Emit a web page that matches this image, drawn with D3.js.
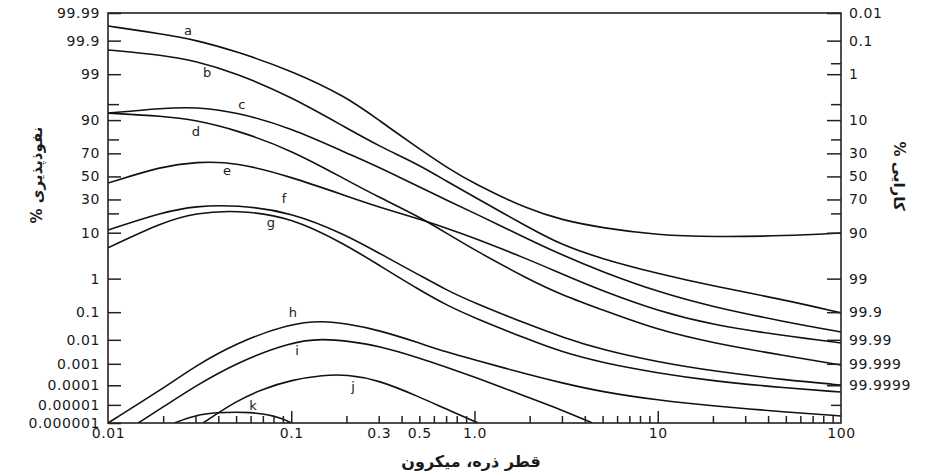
<!DOCTYPE html>
<html>
<head>
<meta charset="utf-8">
<script src="https://cdn.jsdelivr.net/npm/d3@7"></script>
<style>
  html, body { margin: 0; padding: 0; background: #fff; }
  svg { display: block; }
  text { font-family: "DejaVu Sans", sans-serif; fill: #1a1a1a; }
</style>
</head>
<body>
<svg id="chart" width="926" height="473"></svg>
<script>
// ---------------- DATA ----------------
const seriesNames = ["a", "b", "c", "d", "e", "f", "g", "h", "i", "j", "k"];

// shared diameter grid (micron) for curves a-g
const gridD = [0.01, 0.02, 0.03, 0.05, 0.1, 0.2, 0.3, 0.5, 0.7, 1, 2, 3, 5, 10, 20, 50, 100];

// penetration (%) on gridD
const penA = [99.969, 99.94, 99.905, 99.78, 99.2, 96.5, 90.0, 73.4, 58.5, 43.1, 22.2, 16.1, 12.0, 9.1, 8.4, 8.8, 9.9];
const penB = [99.80, 99.71, 99.57, 99.07, 96.5, 86.5, 75.6, 60.3, 45.9, 31.9, 12.0, 5.9, 3.0, 1.35, 0.63, 0.245, 0.095];
const penC = [92.5, 94.0, 94.3, 92.9, 86.5, 70.3, 58.5, 40.5, 29.6, 20.2, 7.4, 3.7, 1.48, 0.43, 0.148, 0.046, 0.020];
const penD = [92.5, 91.5, 90.0, 85.5, 72.6, 46.7, 31.9, 17.8, 9.9, 4.7, 0.92, 0.35, 0.118, 0.0236, 0.0075, 0.0022, 0.00089];
const penE = [44.0, 59.4, 62.9, 62.9, 49.5, 32.8, 24.3, 16.6, 12.0, 8.1, 2.86, 1.32, 0.455, 0.110, 0.036, 0.0141, 0.0075];
const penF = [11.1, 20.9, 25.0, 25.8, 20.9, 9.1, 4.07, 1.24, 0.49, 0.198, 0.036, 0.0129, 0.0039, 0.0012, 0.00047, 0.00018, 0.000103];
const penG = [5.2, 15.0, 20.2, 22.2, 17.8, 5.9, 2.19, 0.49, 0.172, 0.064, 0.0098, 0.0032, 0.0011, 0.00038, 0.00016, 0.000074, 0.000046];

// curves h-k have their own diameters
const dH = [0.01, 0.02, 0.03, 0.05, 0.1, 0.15, 0.2, 0.3, 0.5, 0.7, 1, 2, 3, 5, 10, 20, 50, 100];
const penH = [0.000001, 0.00007, 0.0008, 0.0075, 0.042, 0.050, 0.040, 0.0236, 0.0075, 0.0032, 0.0015, 0.00031, 0.00013, 0.000046, 0.000018, 0.0000087, 0.0000041, 0.0000025];
const dI = [0.0146, 0.02, 0.03, 0.05, 0.1, 0.15, 0.2, 0.3, 0.5, 0.7, 1, 2, 3, 4.4];
const penI = [0.000001, 0.0000077, 0.000092, 0.0011, 0.0085, 0.011, 0.009, 0.0058, 0.0018, 0.00072, 0.00025, 0.000023, 0.0000053, 0.000001];
const dJ = [0.033, 0.05, 0.07, 0.1, 0.15, 0.2, 0.3, 0.5, 0.7, 1.05];
const penJ = [0.000001, 0.000016, 0.000066, 0.00018, 0.00031, 0.00033, 0.00018, 0.000026, 0.000006, 0.000001];
const dK = [0.023, 0.03, 0.04, 0.05, 0.06, 0.07, 0.08, 0.09, 0.1];
const penK = [0.000001, 0.0000028, 0.0000039, 0.0000041, 0.0000039, 0.0000032, 0.0000025, 0.0000017, 0.000001];

// curve label anchors (diameter, penetration %)
const labelD = [0.0273, 0.0347, 0.0538, 0.0302, 0.0446, 0.0913, 0.0775, 0.102, 0.1075, 0.2173, 0.0618];
const labelP = [99.953, 99.07, 94.8, 84.4, 54.9, 30.4, 14.5, 0.094, 0.00355, 0.000082, 0.0000087];

// axis ticks
const leftTickLabels = ["99.99", "99.9", "99", "90", "70", "50", "30", "10", "1", "0.1", "0.01", "0.001", "0.0001", "0.00001", "0.000001"];
const leftMinorTicks = [95, 80, 20];
const rightTickLabels = ["0.01", "0.1", "1", "10", "30", "50", "70", "90", "99", "99.9", "99.99", "99.999", "99.9999"];
const rightMinorTicks = [0.5, 5, 20, 80, 99.99999];
const xLabelValues = [0.01, 0.1, 0.3, 0.5, 1, 10, 100];
const xLabelText = ["0.01", "0.1", "0.3", "0.5", "1.0", "10", "100"];

const xTitle = "قطر ذره، میکرون";
const yTitleLeft = "نفوذپذیری %";
const yTitleRight = "کارایی %";

// ---------------- HELPERS ----------------
function probit(p) {
  const a = [-3.969683028665376e+01, 2.209460984245205e+02, -2.759285104469687e+02, 1.383577518672690e+02, -3.066479806614716e+01, 2.506628277459239e+00];
  const b = [-5.447609879822406e+01, 1.615858368580409e+02, -1.556989798598866e+02, 6.680131188771972e+01, -1.328068155288572e+01];
  const c = [-7.784894002430293e-03, -3.223964580411365e-01, -2.400758277161838e+00, -2.549732539343734e+00, 4.374664141464968e+00, 2.938163982698783e+00];
  const d = [7.784695709041462e-03, 3.224671290700398e-01, 2.445134137142996e+00, 3.754408661907416e+00];
  const pl = 0.02425, ph = 1 - pl;
  let q, r;
  if (p < pl) {
    q = Math.sqrt(-2 * Math.log(p));
    return (((((c[0]*q+c[1])*q+c[2])*q+c[3])*q+c[4])*q+c[5]) / ((((d[0]*q+d[1])*q+d[2])*q+d[3])*q+1);
  }
  if (p <= ph) {
    q = p - 0.5; r = q*q;
    return (((((a[0]*r+a[1])*r+a[2])*r+a[3])*r+a[4])*r+a[5])*q / (((((b[0]*r+b[1])*r+b[2])*r+b[3])*r+b[4])*r+1);
  }
  q = Math.sqrt(-2 * Math.log(1 - p));
  return -(((((c[0]*q+c[1])*q+c[2])*q+c[3])*q+c[4])*q+c[5]) / ((((d[0]*q+d[1])*q+d[2])*q+d[3])*q+1);
}
const zPen = pct => probit(pct / 100);        // penetration % -> probit
const zEff = pct => probit((100 - pct) / 100); // efficiency % -> probit of penetration

// ---------------- LAYOUT ----------------
const L = 108, R = 841, T = 13, B = 423;
const svg = d3.select("#chart");
svg.append("rect").attr("width", 926).attr("height", 473).attr("fill", "#fff");

const x = d3.scaleLog().domain([0.01, 100]).range([L, R]);
const y = d3.scaleLinear().domain([probit(0.9999), probit(1e-8)]).range([T, B]);

const defs = svg.append("defs");
defs.append("clipPath").attr("id", "plotclip")
  .append("rect").attr("x", L).attr("y", T).attr("width", R - L).attr("height", B - T);

// ---------------- CURVES ----------------
const curveD = [gridD, gridD, gridD, gridD, gridD, gridD, gridD, dH, dI, dJ, dK];
const curveP = [penA, penB, penC, penD, penE, penF, penG, penH, penI, penJ, penK];

const line = d3.line()
  .x(d => x(d[0]))
  .y(d => y(zPen(d[1])))
  .curve(d3.curveBasis);

const gCurves = svg.append("g").attr("clip-path", "url(#plotclip)");
seriesNames.forEach((name, i) => {
  const pts = curveD[i].map((dd, j) => [dd, curveP[i][j]]);
  gCurves.append("path")
    .datum(pts)
    .attr("d", line)
    .attr("fill", "none")
    .attr("stroke", "#111")
    .attr("stroke-width", 1.6)
    .attr("stroke-linejoin", "round");
});

// curve labels
svg.append("g").selectAll("text")
  .data(seriesNames)
  .join("text")
  .attr("x", (d, i) => x(labelD[i]))
  .attr("y", (d, i) => y(zPen(labelP[i])) + 4)
  .attr("text-anchor", "middle")
  .attr("font-size", 13)
  .text(d => d);

// ---------------- FRAME ----------------
svg.append("rect")
  .attr("x", L).attr("y", T).attr("width", R - L).attr("height", B - T)
  .attr("fill", "none").attr("stroke", "#222").attr("stroke-width", 1.6);

// ---------------- AXES ----------------
const tickFont = g => g.selectAll("text")
  .attr("font-family", "DejaVu Sans, sans-serif")
  .attr("font-size", 14)
  .attr("letter-spacing", 0.6)
  .attr("fill", "#1a1a1a");
const tickStroke = g => {
  g.select(".domain").remove();
  g.selectAll(".tick line").attr("stroke", "#222").attr("stroke-width", 1.5);
};

// left axis (penetration)
const leftVals = leftTickLabels.map(s => zPen(+s));
svg.append("g")
  .attr("transform", `translate(${L},0)`)
  .call(d3.axisLeft(y).tickValues(leftVals).tickSize(-13).tickPadding(8)
        .tickFormat((d, i) => leftTickLabels[i]))
  .call(tickStroke).call(tickFont);
svg.append("g")
  .attr("transform", `translate(${L},0)`)
  .call(d3.axisLeft(y).tickValues(leftMinorTicks.map(zPen)).tickSize(-11).tickFormat(""))
  .call(tickStroke);

// right axis (efficiency)
const rightVals = rightTickLabels.map(s => zEff(+s));
svg.append("g")
  .attr("transform", `translate(${R},0)`)
  .call(d3.axisRight(y).tickValues(rightVals).tickSize(-14).tickPadding(8)
        .tickFormat((d, i) => rightTickLabels[i]))
  .call(tickStroke).call(tickFont);
svg.append("g")
  .attr("transform", `translate(${R},0)`)
  .call(d3.axisRight(y).tickValues(rightMinorTicks.map(zEff)).tickSize(-10).tickFormat(""))
  .call(tickStroke);

// bottom axis
const minorX = [];
[0.01, 0.1, 1, 10].forEach(dec => { for (let k = 2; k <= 9; k++) minorX.push(dec * k); });
svg.append("g")
  .attr("transform", `translate(0,${B})`)
  .call(d3.axisBottom(x).tickValues(minorX).tickSize(-7).tickFormat(""))
  .call(tickStroke);
svg.append("g")
  .attr("transform", `translate(0,${B})`)
  .call(d3.axisBottom(x).tickValues([0.1, 1, 10]).tickSize(-12).tickFormat(""))
  .call(tickStroke);
svg.append("g")
  .attr("transform", `translate(0,${B})`)
  .call(d3.axisBottom(x).tickValues(xLabelValues).tickSize(0).tickPadding(5)
        .tickFormat((d, i) => xLabelText[i]))
  .call(tickStroke).call(tickFont);

// ---------------- TITLES ----------------
svg.append("text")
  .attr("x", 471)
  .attr("y", 467)
  .attr("text-anchor", "middle")
  .attr("font-size", 16)
  .attr("font-weight", "bold")
  .attr("direction", "rtl")
  .text(xTitle);

svg.append("text")
  .attr("transform", "translate(42,175) rotate(-90)")
  .attr("text-anchor", "middle")
  .attr("font-size", 15)
  .attr("font-weight", "bold")
  .attr("direction", "rtl")
  .text(yTitleLeft);

svg.append("text")
  .attr("transform", "translate(894,176) rotate(90)")
  .attr("text-anchor", "middle")
  .attr("font-size", 15)
  .attr("font-weight", "bold")
  .attr("direction", "rtl")
  .text(yTitleRight);
</script>
</body>
</html>
